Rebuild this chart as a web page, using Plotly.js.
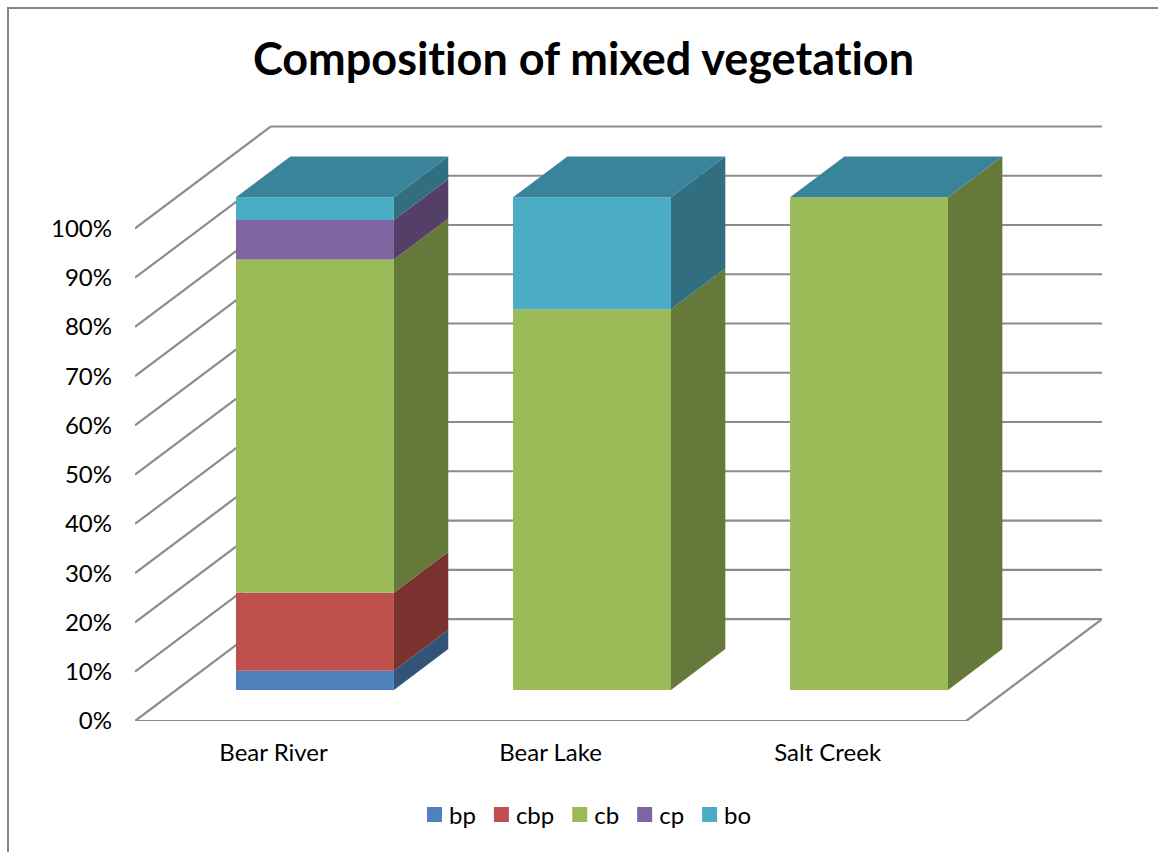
<!DOCTYPE html>
<html>
<head>
<meta charset="utf-8">
<script src="https://cdn.plot.ly/plotly-3.0.1.min.js"></script>
<style>
  html, body { margin: 0; padding: 0; background: #fff; overflow: hidden; }
  #chart { position: absolute; left: 0; top: 0; width: 1158px; height: 852px; }
  #chart text { font-variant-ligatures: none !important; }
  /* Larger legend swatches sitting close to their labels, with tighter item spacing */
  #chart .legend .legendpoints path { scale: 1.25; translate: 0.5px 0; }
  #chart .legend .traces:nth-of-type(2) { translate: -5px 0; }
  #chart .legend .traces:nth-of-type(3) { translate: -10px 0; }
  #chart .legend .traces:nth-of-type(4) { translate: -15px 0; }
  #chart .legend .traces:nth-of-type(5) { translate: -20px 0; }
  #frame { position: absolute; left: 7px; top: 7px; right: 0; bottom: 0; pointer-events: none;
           border-left: 2px solid #868686; border-top: 2px solid #868686; }
</style>
</head>
<body>
<div id="chart"></div>
<div id="frame"></div>
<script>
// Stacked shares (percent) per site
const sites = ['Bear River', 'Bear Lake', 'Salt Creek'];
const seriesNames = ['bp', 'cbp', 'cb', 'cp', 'bo'];
const bp  = [3.9, 0, 0];
const cbp = [15.8, 0, 0];
const cb  = [67.7, 77.3, 100];
const cp  = [8.0, 0, 0];
const bo  = [4.6, 22.7, 0];
const seriesValues = [bp, cbp, cb, cp, bo];

const frontColors = ['#4F81BD', '#C0504D', '#9BBB59', '#8064A2', '#4BACC6'];
const sideColors  = ['#335479', '#7A3230', '#64793A', '#533F68', '#316E80'];
const topColor = '#39849A';
const gridColor = '#8C8C8C';
const fontFamily = 'Lato, "Open Sans", sans-serif';
const percentTicks = [0, 10, 20, 30, 40, 50, 60, 70, 80, 90, 100];

// Oblique projection: a full step into the depth of the box moves a point
// this far along each axis, in axis units.
const DEPTH_X = 0.4904;
const DEPTH_Y = 20.7;
const BAR_WIDTH = 0.57;
const BAR_FRONT = 0.305;
const BAR_BACK = 0.705;
const project = (x, v, d) => [x + d * DEPTH_X, v + d * DEPTH_Y];

function polygon(points, color) {
  return {
    type: 'scatter', mode: 'lines', fill: 'toself', fillcolor: color,
    x: points.map(p => p[0]), y: points.map(p => p[1]),
    line: { width: 0, color: color }, showlegend: false, hoverinfo: 'skip'
  };
}

const traces = [];

// Front faces are true bars, shifted onto the bars' front plane.
seriesNames.forEach((name, s) => {
  const xs = [], ys = [], bases = [];
  sites.forEach((_, c) => {
    const below = seriesValues.slice(0, s).reduce((sum, arr) => sum + arr[c], 0);
    const p = project(c + 0.5, below, BAR_FRONT);
    xs.push(p[0]);
    bases.push(p[1]);
    ys.push(seriesValues[s][c]);
  });
  traces.push({
    type: 'bar', name: name, x: xs, y: ys, base: bases, width: BAR_WIDTH,
    marker: { color: frontColors[s], line: { width: 0 } }, hoverinfo: 'skip'
  });
});

// Right-hand side faces and the roof of every column.
sites.forEach((_, c) => {
  const right = c + 0.5 + BAR_WIDTH / 2;
  const left = c + 0.5 - BAR_WIDTH / 2;
  let level = 0;
  seriesValues.forEach((vals, s) => {
    const v = vals[c];
    if (v > 0) {
      traces.push(polygon([
        project(right, level, BAR_FRONT), project(right, level, BAR_BACK),
        project(right, level + v, BAR_BACK), project(right, level + v, BAR_FRONT),
        project(right, level, BAR_FRONT)
      ], sideColors[s]));
    }
    level += v;
  });
  traces.push(polygon([
    project(left, level, BAR_FRONT), project(right, level, BAR_FRONT),
    project(right, level, BAR_BACK), project(left, level, BAR_BACK),
    project(left, level, BAR_FRONT)
  ], topColor));
});

// Wall and floor lines of the box, kept underneath the columns.
function gridLine(a, b) {
  return {
    type: 'line', layer: 'below', xref: 'x', yref: 'y',
    x0: a[0], y0: a[1], x1: b[0], y1: b[1],
    line: { color: gridColor, width: 2.2 }
  };
}
const shapes = [];
percentTicks.forEach(t => {
  shapes.push(gridLine(project(0, t, 0), project(0, t, 1)));
  shapes.push(gridLine(project(0, t, 1), project(sites.length, t, 1)));
});
shapes.push(gridLine(project(0, 0, 0), project(sites.length, 0, 0)));
shapes.push(gridLine(project(sites.length, 0, 0), project(sites.length, 0, 1)));

const layout = {
  width: 1158, height: 852,
  margin: { l: 135, r: 56, t: 125, b: 131, pad: 0 },
  paper_bgcolor: '#fff', plot_bgcolor: 'rgba(0,0,0,0)',
  showlegend: true,
  barmode: 'overlay',
  font: { family: fontFamily, color: '#000', size: 24 },
  title: {
    text: '<b>Composition of mixed vegetation</b>',
    font: { family: fontFamily, size: 45, color: '#000' },
    x: 583.5 / 1158, xanchor: 'center', y: 1 - 59 / 852, yref: 'container', yanchor: 'middle'
  },
  xaxis: {
    range: [0, sites.length + DEPTH_X], fixedrange: true,
    tickmode: 'array', tickvals: sites.map((_, i) => i + 0.5), ticktext: sites,
    showgrid: false, zeroline: false, showline: false, ticks: '',
    ticklabelstandoff: 15, tickfont: { size: 24 }
  },
  yaxis: {
    range: [0, 121], fixedrange: true,
    tickmode: 'array', tickvals: percentTicks, ticktext: percentTicks.map(t => t + '%'),
    showgrid: false, zeroline: false, showline: false, ticks: '',
    ticklabelstandoff: 22, tickfont: { size: 24 }
  },
  legend: {
    orientation: 'h', x: 593 / 1158, xref: 'container', xanchor: 'center',
    y: 1 - 815 / 852, yref: 'container', yanchor: 'middle',
    font: { size: 24 }, itemclick: false, itemdoubleclick: false,
    bgcolor: 'rgba(0,0,0,0)', traceorder: 'normal'
  },
  shapes: shapes
};

Plotly.newPlot('chart', traces, layout, { displayModeBar: false, staticPlot: true });
</script>
</body>
</html>
